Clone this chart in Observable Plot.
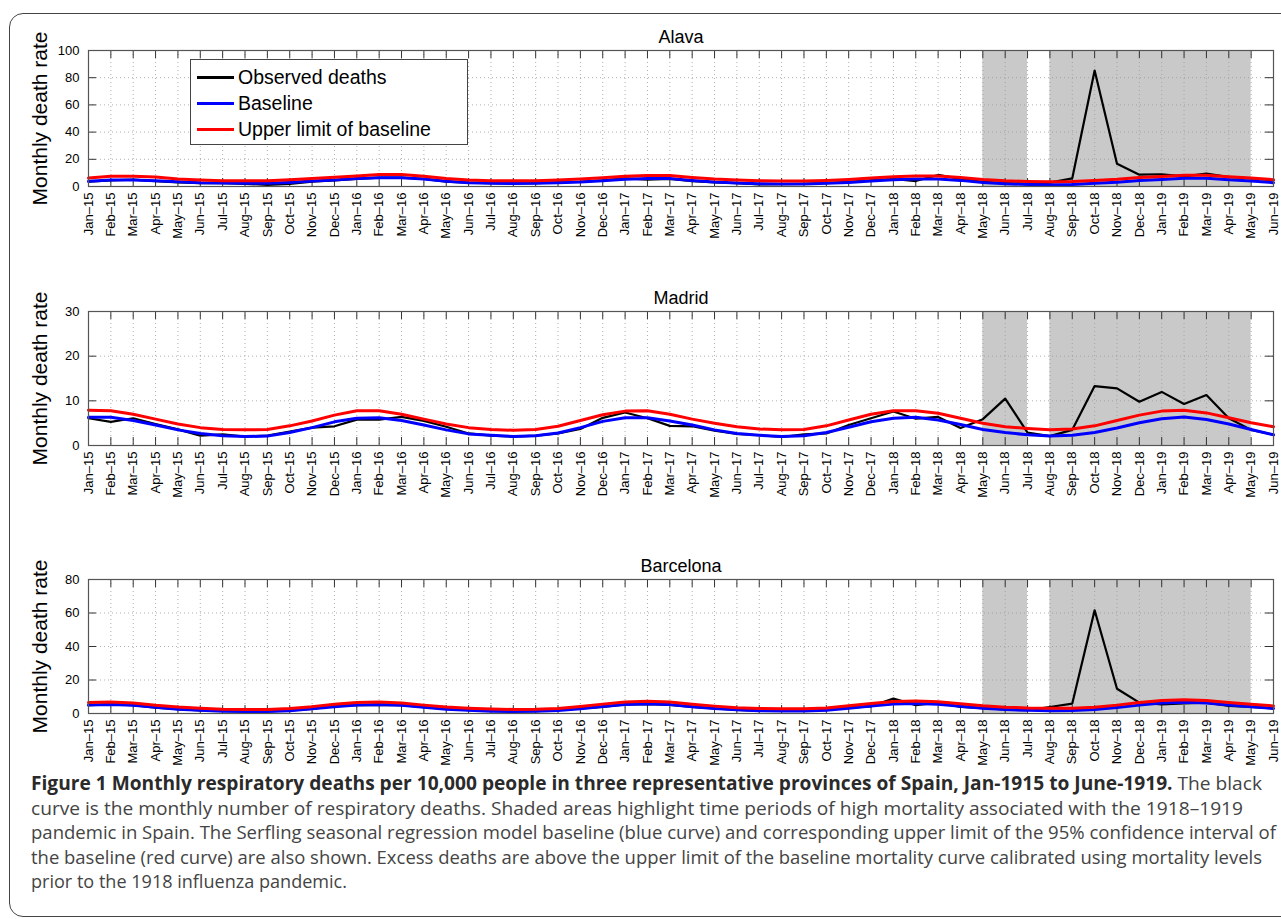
<!DOCTYPE html>
<html>
<head>
<meta charset="utf-8">
<script src="https://cdn.jsdelivr.net/npm/d3@7"></script>
<script src="https://cdn.jsdelivr.net/npm/@observablehq/plot@0.6"></script>
<style>
  html, body { margin: 0; padding: 0; background: #fff; }
  body { width: 1281px; height: 919px; position: relative; overflow: hidden; font-family: "Liberation Sans", Arial, sans-serif; }
  #frame { position: absolute; left: 9px; top: 13px; width: 1300px; height: 904px; border: 1.5px solid #444; border-radius: 14px; box-sizing: border-box; }
  .panel { position: absolute; left: 0; overflow: visible; }
  #legend { position: absolute; left: 190px; top: 59px; width: 278px; height: 86px; border: 1px solid #444; background: #fff; box-sizing: border-box; }
  .li { position: absolute; left: 0; height: 26px; font-size: 19.5px; color: #000; white-space: nowrap; }
  .li span.sw { position: absolute; left: 6px; width: 37px; height: 3px; top: 50%; margin-top: -1.5px; }
  .li span.tx { position: absolute; left: 47px; top: 50%; transform: translateY(-50%); }
  #caption { position: absolute; left: 31px; top: 771px; font-family: "Open Sans", "Noto Sans", sans-serif; font-size: 19px; color: #444; }
  #caption .ln { height: 24.5px; line-height: 24.5px; white-space: nowrap; transform-origin: 0 50%; }
  #caption b { color: #2a2a2a; font-weight: 700; }
</style>
</head>
<body>
<div id="frame"></div>
<div id="panels"></div>
<div id="legend">
  <div class="li" style="top:4px"><span class="sw" style="background:#000"></span><span class="tx">Observed deaths</span></div>
  <div class="li" style="top:30px"><span class="sw" style="background:#0000ff"></span><span class="tx">Baseline</span></div>
  <div class="li" style="top:56px"><span class="sw" style="background:#ff0000"></span><span class="tx">Upper limit of baseline</span></div>
</div>
<div id="caption">
  <div class="ln" data-w="1231"><b>Figure 1 Monthly respiratory deaths per 10,000 people in three representative provinces of Spain, Jan-1915 to June-1919.</b> The black</div>
  <div class="ln" data-w="1212">curve is the monthly number of respiratory deaths. Shaded areas highlight time periods of high mortality associated with the 1918–1919</div>
  <div class="ln" data-w="1245">pandemic in Spain. The Serfling seasonal regression model baseline (blue curve) and corresponding upper limit of the 95% confidence interval of</div>
  <div class="ln" data-w="1231">the baseline (red curve) are also shown. Excess deaths are above the upper limit of the baseline mortality curve calibrated using mortality levels</div>
  <div class="ln" data-w="316">prior to the 1918 influenza pandemic.</div>
</div>

<script>
// ---- data ----
const monthLabels = [
  "Jan–15","Feb–15","Mar–15","Apr–15","May–15","Jun–15","Jul–15","Aug–15","Sep–15","Oct–15","Nov–15","Dec–15",
  "Jan–16","Feb–16","Mar–16","Apr–16","May–16","Jun–16","Jul–16","Aug–16","Sep–16","Oct–16","Nov–16","Dec–16",
  "Jan–17","Feb–17","Mar–17","Apr–17","May–17","Jun–17","Jul–17","Aug–17","Sep–17","Oct–17","Nov–17","Dec–17",
  "Jan–18","Feb–18","Mar–18","Apr–18","May–18","Jun–18","Jul–18","Aug–18","Sep–18","Oct–18","Nov–18","Dec–18",
  "Jan–19","Feb–19","Mar–19","Apr–19","May–19","Jun–19"
];
const provinces = ["Alava", "Madrid", "Barcelona"];
const yLabel = "Monthly death rate";

// shaded periods (month index start/end)
const shadeStart = [40, 43];
const shadeEnd = [42, 52];

// Alava
const alavaObserved = [
  3.5, 4.5, 5.0, 4.0, 3.0, 2.5, 2.5, 2.0, 1.2, 2.0, 3.5, 4.5,
  5.5, 6.5, 6.5, 5.5, 3.5, 2.8, 2.5, 2.2, 2.5, 3.0, 3.5, 4.5,
  6.0, 5.0, 5.5, 4.0, 3.0, 2.5, 1.5, 1.8, 2.0, 2.5, 3.5, 4.5,
  5.5, 4.0, 8.5, 5.5, 3.5, 2.5, 2.0, 2.8, 6.0, 85.3, 16.8, 8.7,
  9.0, 7.5, 9.5, 7.0, 6.0, 4.5
];
const alavaBaseline = [
  3.8, 4.8, 4.8, 4.3, 3.5, 2.8, 2.5, 2.3, 2.3, 3.0, 4.0, 4.8,
  5.8, 6.5, 6.5, 5.5, 3.8, 2.8, 2.4, 2.2, 2.3, 2.8, 3.4, 4.3,
  5.3, 5.8, 5.8, 4.5, 3.3, 2.5, 2.0, 1.8, 1.8, 2.3, 3.0, 4.0,
  5.0, 5.5, 5.5, 4.5, 3.0, 2.0, 1.5, 1.3, 1.4, 2.3, 3.2, 4.5,
  5.2, 6.0, 6.0, 5.0, 4.0, 2.8
];
const alavaUpper = [
  6.2, 7.5, 7.5, 7.0, 5.5, 4.8, 4.3, 4.3, 4.3, 5.0, 5.8, 6.8,
  7.8, 8.8, 8.8, 7.5, 5.8, 4.8, 4.3, 4.2, 4.3, 4.8, 5.5, 6.5,
  7.5, 8.0, 8.0, 6.7, 5.5, 4.7, 4.2, 4.0, 4.0, 4.5, 5.2, 6.2,
  7.2, 7.7, 7.7, 6.7, 5.2, 4.2, 3.7, 3.5, 3.6, 4.5, 5.4, 6.7,
  7.4, 8.2, 8.2, 7.2, 6.2, 5.0
];

// Madrid
const madridObserved = [
  6.1, 5.3, 6.1, 4.8, 3.6, 2.2, 2.5, 2.0, 2.2, 3.1, 4.0, 4.3,
  5.8, 5.8, 6.4, 5.5, 4.2, 2.7, 2.2, 2.0, 2.2, 2.7, 3.7, 6.2,
  7.4, 6.1, 4.4, 4.3, 3.3, 2.6, 2.3, 1.9, 2.5, 2.7, 4.6, 6.1,
  7.6, 6.0, 6.4, 3.9, 5.9, 10.5, 2.9, 2.1, 3.5, 13.3, 12.8, 9.8,
  12.0, 9.3, 11.3, 6.1, 3.5, 2.4
];
const madridBaseline = [
  6.3, 6.3, 5.6, 4.6, 3.5, 2.7, 2.2, 2.0, 2.1, 2.9, 4.0, 5.3,
  6.1, 6.2, 5.6, 4.6, 3.5, 2.6, 2.3, 2.0, 2.2, 2.8, 4.0, 5.4,
  6.2, 6.2, 5.5, 4.6, 3.5, 2.7, 2.3, 2.0, 2.2, 2.9, 4.1, 5.3,
  6.1, 6.3, 5.7, 4.7, 3.6, 2.9, 2.4, 2.1, 2.3, 2.9, 3.9, 5.1,
  6.0, 6.4, 5.8, 4.8, 3.6, 2.4
];
const madridUpper = [
  7.9, 7.8, 7.0, 5.9, 4.8, 4.0, 3.6, 3.5, 3.6, 4.4, 5.5, 6.8,
  7.8, 7.8, 7.0, 5.9, 4.8, 4.0, 3.6, 3.4, 3.6, 4.3, 5.6, 6.9,
  7.7, 7.8, 7.0, 5.9, 5.0, 4.2, 3.7, 3.5, 3.6, 4.4, 5.7, 7.0,
  7.8, 7.8, 7.2, 6.1, 5.0, 4.2, 3.8, 3.5, 3.7, 4.4, 5.6, 6.8,
  7.7, 7.9, 7.3, 6.2, 5.1, 4.2
];

// Barcelona
const barcelonaObserved = [
  5.0, 5.5, 5.0, 3.5, 2.6, 1.8, 1.5, 1.2, 1.3, 1.8, 2.8, 4.5,
  5.0, 5.2, 5.0, 3.8, 2.8, 2.0, 1.6, 1.3, 1.4, 2.0, 3.0, 4.0,
  5.5, 5.6, 5.2, 4.0, 3.0, 2.2, 1.6, 1.5, 1.5, 2.0, 3.5, 4.3,
  8.9, 5.0, 6.5, 4.0, 3.2, 2.4, 2.0, 3.9, 5.9, 61.6, 14.8, 6.5,
  5.5, 6.0, 6.5, 4.5, 4.0, 3.0
];
const barcelonaBaseline = [
  5.0, 5.4, 4.9, 3.7, 2.6, 1.9, 1.4, 1.2, 1.2, 1.7, 2.8, 4.1,
  5.0, 5.4, 4.9, 3.7, 2.6, 1.9, 1.4, 1.2, 1.3, 1.8, 2.9, 4.2,
  5.3, 5.8, 5.3, 4.1, 3.0, 2.2, 1.7, 1.5, 1.5, 2.0, 3.2, 4.5,
  5.6, 5.9, 5.5, 4.3, 3.2, 2.4, 1.9, 1.7, 1.8, 2.4, 3.6, 5.0,
  6.2, 6.7, 6.3, 5.1, 4.0, 3.0
];
const barcelonaUpper = [
  6.5, 6.9, 6.3, 4.9, 3.9, 3.2, 2.6, 2.4, 2.4, 3.0, 4.1, 5.5,
  6.5, 6.9, 6.3, 5.0, 3.9, 3.2, 2.7, 2.4, 2.5, 3.0, 4.2, 5.6,
  6.8, 7.3, 6.8, 5.5, 4.4, 3.5, 3.0, 2.8, 2.8, 3.3, 4.6, 5.9,
  7.1, 7.4, 7.0, 5.8, 4.6, 3.8, 3.3, 3.1, 3.2, 3.8, 5.0, 6.5,
  7.7, 8.2, 7.8, 6.6, 5.5, 4.5
];

const yMax = [100, 30, 80];
const yTicks = [[0, 20, 40, 60, 80, 100], [0, 10, 20, 30], [0, 20, 40, 60, 80]];
const seriesObserved = [alavaObserved, madridObserved, barcelonaObserved];
const seriesBaseline = [alavaBaseline, madridBaseline, barcelonaBaseline];
const seriesUpper = [alavaUpper, madridUpper, barcelonaUpper];

// ---- layout ----
const W = 1281, mL = 88, mR = 8;
const plotTops = [50, 311, 579];
const plotH = [136, 134, 134];
const mT = 40, mB = 70;

const idx = d3.range(monthLabels.length);
const shades = shadeStart.map((s, i) => ({x1: s, x2: shadeEnd[i]}));

const panels = document.getElementById("panels");
provinces.forEach((name, p) => {
  const H = plotH[p];
  const innerW = W - mL - mR;
  const obs = seriesObserved[p].map((v, i) => ({i, v}));
  const base = seriesBaseline[p].map((v, i) => ({i, v}));
  const up = seriesUpper[p].map((v, i) => ({i, v}));
  const chart = Plot.plot({
    width: W,
    height: H + mT + mB,
    marginLeft: mL, marginRight: mR, marginTop: mT, marginBottom: mB,
    style: {fontFamily: "'Liberation Sans', Arial, sans-serif", background: "transparent", color: "#000", overflow: "visible"},
    x: {type: "linear", domain: [0, monthLabels.length - 1]},
    y: {domain: [0, yMax[p]]},
    marks: [
      Plot.rect(shades, {x1: "x1", x2: "x2", y1: 0, y2: yMax[p], fill: "#c9c9c9"}),
      Plot.ruleX(idx, {x: d => d, stroke: "#9a9a9a", strokeDasharray: "1,3", strokeWidth: 0.8}),
      Plot.ruleY(yTicks[p], {y: d => d, stroke: "#9a9a9a", strokeDasharray: "1,3", strokeWidth: 0.8}),
      Plot.tickX(idx, {x: d => d, insetTop: H - 8, stroke: "#333", strokeWidth: 1}),
      Plot.tickX(idx, {x: d => d, insetBottom: H - 8, stroke: "#333", strokeWidth: 1}),
      Plot.tickY(yTicks[p], {y: d => d, insetRight: innerW - 8, stroke: "#333", strokeWidth: 1}),
      Plot.tickY(yTicks[p], {y: d => d, insetLeft: innerW - 8, stroke: "#333", strokeWidth: 1}),
      Plot.lineY(obs, {x: "i", y: "v", stroke: "#000", strokeWidth: 2.2}),
      Plot.lineY(base, {x: "i", y: "v", stroke: "#0000ff", strokeWidth: 3}),
      Plot.lineY(up, {x: "i", y: "v", stroke: "#ff0000", strokeWidth: 3}),
      Plot.frame({stroke: "#555", strokeWidth: 1.2}),
      Plot.axisY({ticks: yTicks[p], tickSize: 0, tickPadding: 9, fontSize: 13, label: null}),
      Plot.axisX({ticks: idx, tickFormat: i => monthLabels[i], tickRotate: -90, tickSize: 0, tickPadding: 6, fontSize: 13, label: null}),
      Plot.text([yLabel], {frameAnchor: "left", text: d => d, rotate: -90, dx: -48, textAnchor: "middle", lineAnchor: "middle", fontSize: 21}),
      Plot.text([name], {frameAnchor: "top", text: d => d, dy: -20, fontSize: 18})
    ]
  });
  chart.classList.add("panel");
  chart.style.top = (plotTops[p] - mT) + "px";
  panels.appendChild(chart);
});

// fit each caption line to its width in the reference
document.querySelectorAll("#caption .ln").forEach(el => {
  el.style.display = "inline-block";
  const natural = el.getBoundingClientRect().width;
  el.style.display = "block";
  const target = +el.dataset.w;
  el.style.transform = `scaleX(${target / natural})`;
});
</script>
</body>
</html>
